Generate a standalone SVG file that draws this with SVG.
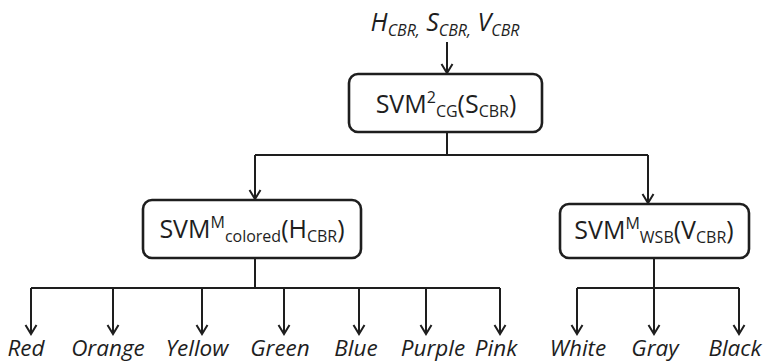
<svg xmlns="http://www.w3.org/2000/svg" width="766" height="363" viewBox="0 0 766 363">
  <style>
    .box { fill: #ffffff; stroke: #1e1e1e; stroke-width: 2.6; }
    .wire { fill: none; stroke: #1e1e1e; stroke-width: 2; }
    .lbl { font-family: "Open Sans", "DejaVu Sans", sans-serif; font-size: 25px; fill: #1e1e1e; font-weight: 500; }
    .it { font-style: italic; }
    .sm { font-size: 16px; }
    .leaf { font-family: "Open Sans", "DejaVu Sans", sans-serif; font-style: italic; font-weight: 500; font-size: 22.5px; fill: #1e1e1e; text-anchor: middle; }
  </style>
  <defs>
    <marker id="arrow" markerUnits="userSpaceOnUse" markerWidth="14" markerHeight="14" refX="0" refY="0" orient="auto" overflow="visible">
      <path d="M-9,-5.5 L0,0 L-9,5.5" fill="none" stroke="#1e1e1e" stroke-width="2"/>
    </marker>
  </defs>

  <!-- input features -->
  <g id="inputs">
    <text class="lbl it" x="445" y="31" text-anchor="middle" font-size="26">H<tspan class="sm" font-size="17" dy="5">CBR,</tspan><tspan dy="-5"> S</tspan><tspan class="sm" font-size="17" dy="5">CBR,</tspan><tspan dy="-5"> V</tspan><tspan class="sm" font-size="17" dy="5">CBR</tspan></text>
  </g>

  <!-- connectors -->
  <g id="connectors">
    <line class="wire" x1="447" y1="42" x2="447" y2="73" marker-end="url(#arrow)"/>
    <line class="wire" x1="447" y1="133" x2="447" y2="155"/>
    <polyline class="wire" points="255,155 648,155"/>
    <line class="wire" x1="255" y1="155" x2="255" y2="199" marker-end="url(#arrow)"/>
    <line class="wire" x1="648" y1="155" x2="648" y2="203" marker-end="url(#arrow)"/>

    <line class="wire" x1="255" y1="259" x2="255" y2="288"/>
    <line class="wire" x1="31" y1="288" x2="500" y2="288"/>
    <line class="wire" x1="31" y1="288" x2="31" y2="334" marker-end="url(#arrow)"/>
    <line class="wire" x1="113" y1="288" x2="113" y2="334" marker-end="url(#arrow)"/>
    <line class="wire" x1="202" y1="288" x2="202" y2="334" marker-end="url(#arrow)"/>
    <line class="wire" x1="284" y1="288" x2="284" y2="334" marker-end="url(#arrow)"/>
    <line class="wire" x1="359" y1="288" x2="359" y2="334" marker-end="url(#arrow)"/>
    <line class="wire" x1="426" y1="288" x2="426" y2="334" marker-end="url(#arrow)"/>
    <line class="wire" x1="500" y1="288" x2="500" y2="334" marker-end="url(#arrow)"/>

    <line class="wire" x1="654" y1="259" x2="654" y2="288"/>
    <line class="wire" x1="577" y1="288" x2="739" y2="288"/>
    <line class="wire" x1="577" y1="288" x2="577" y2="334" marker-end="url(#arrow)"/>
    <line class="wire" x1="654" y1="288" x2="654" y2="334" marker-end="url(#arrow)"/>
    <line class="wire" x1="739" y1="288" x2="739" y2="334" marker-end="url(#arrow)"/>
  </g>

  <!-- root classifier -->
  <g id="svm-cg">
    <rect class="box" x="349" y="74" width="193" height="58" rx="9"/>
    <text class="lbl" x="446" y="113" text-anchor="middle">SVM<tspan class="sm" dy="-10">2</tspan><tspan class="sm" dy="14">CG</tspan><tspan dy="-4">(S</tspan><tspan class="sm" dy="4">CBR</tspan><tspan dy="-4">)</tspan></text>
  </g>

  <!-- colored classifier -->
  <g id="svm-colored">
    <rect class="box" x="143" y="200" width="218" height="58" rx="9"/>
    <text class="lbl" x="252" y="238" text-anchor="middle">SVM<tspan class="sm" dy="-10">M</tspan><tspan class="sm" dy="14">colored</tspan><tspan dy="-4">(H</tspan><tspan class="sm" dy="4">CBR</tspan><tspan dy="-4">)</tspan></text>
  </g>

  <!-- white/shade/black classifier -->
  <g id="svm-wsb">
    <rect class="box" x="560" y="204" width="189" height="54" rx="9"/>
    <text class="lbl" x="654" y="239" text-anchor="middle">SVM<tspan class="sm" dy="-10">M</tspan><tspan class="sm" dy="14">WSB</tspan><tspan dy="-4">(V</tspan><tspan class="sm" dy="4">CBR</tspan><tspan dy="-4">)</tspan></text>
  </g>

  <!-- colour classes -->
  <g id="leaf-red"><text class="leaf" x="26" y="356">Red</text></g>
  <g id="leaf-orange"><text class="leaf" x="108" y="356">Orange</text></g>
  <g id="leaf-yellow"><text class="leaf" x="197" y="356">Yellow</text></g>
  <g id="leaf-green"><text class="leaf" x="280" y="356">Green</text></g>
  <g id="leaf-blue"><text class="leaf" x="356" y="356">Blue</text></g>
  <g id="leaf-purple"><text class="leaf" x="433" y="356">Purple</text></g>
  <g id="leaf-pink"><text class="leaf" x="496" y="356">Pink</text></g>
  <g id="leaf-white"><text class="leaf" x="578" y="356">White</text></g>
  <g id="leaf-gray"><text class="leaf" x="655" y="356">Gray</text></g>
  <g id="leaf-black"><text class="leaf" x="735" y="356">Black</text></g>
</svg>
